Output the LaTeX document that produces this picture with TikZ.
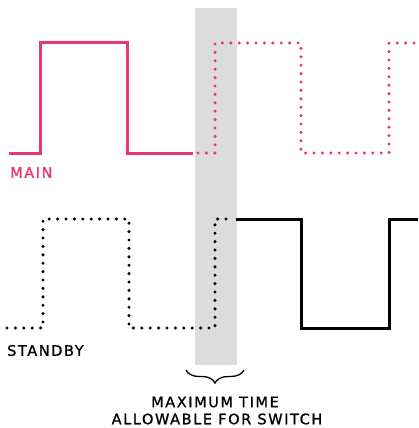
\documentclass[tikz,border=0pt]{standalone}
\usepackage{fontspec}
\setmainfont{DejaVu Sans}[LetterSpace=11,FakeBold=1.2]
\usetikzlibrary{decorations.pathreplacing}
\definecolor{pinkline}{HTML}{E8396C}
\definecolor{band}{HTML}{DCDCDC}
\tikzset{
  solidwave/.style={line width=3pt, line join=miter},
  dotwave/.style={line width=3.4pt, line cap=round, dash pattern=on 0pt off 8.4pt},
  lab/.style={font=\fontsize{14.5}{16}\selectfont, inner sep=0pt},
}
\begin{document}
\begin{tikzpicture}[x=1pt,y=-1pt]
\useasboundingbox (0,0) rectangle (418,428);
\fill[band] (195,8) rectangle (237,365);
% MAIN
\draw[solidwave,pinkline] (9,153) -- (40,153) -- (40,43) -- (127,43) -- (127,153) -- (193,153);
\draw[dotwave,pinkline] (198,153) -- (215,153) -- (215,43) -- (301,43) -- (301,153) -- (389,153) -- (389,43) -- (418,43);
% STANDBY
\draw[dotwave,black] (7,328) -- (43,328) -- (43,219) -- (129,219) -- (129,328) -- (215,328) -- (215,219) -- (234,219);
\draw[solidwave,black] (236,219) -- (301,219) -- (301,328) -- (389,328) -- (389,219) -- (418,219);
\node[lab,text=pinkline,anchor=west] (main) at (10,172.5) {MAIN};
\node[lab,anchor=west] (standby) at (7,350.5) {STANDBY};
\coordinate (bl) at (244,370);
\coordinate (br) at (186,370);
\draw[line width=1.3pt,decorate,decoration={brace,amplitude=13pt}] (bl) -- (br);
\node[lab] (t1) at (215,402) {MAXIMUM TIME};
\node[lab] (t2) at (217,419) {ALLOWABLE FOR SWITCH};
\end{tikzpicture}
\end{document}
